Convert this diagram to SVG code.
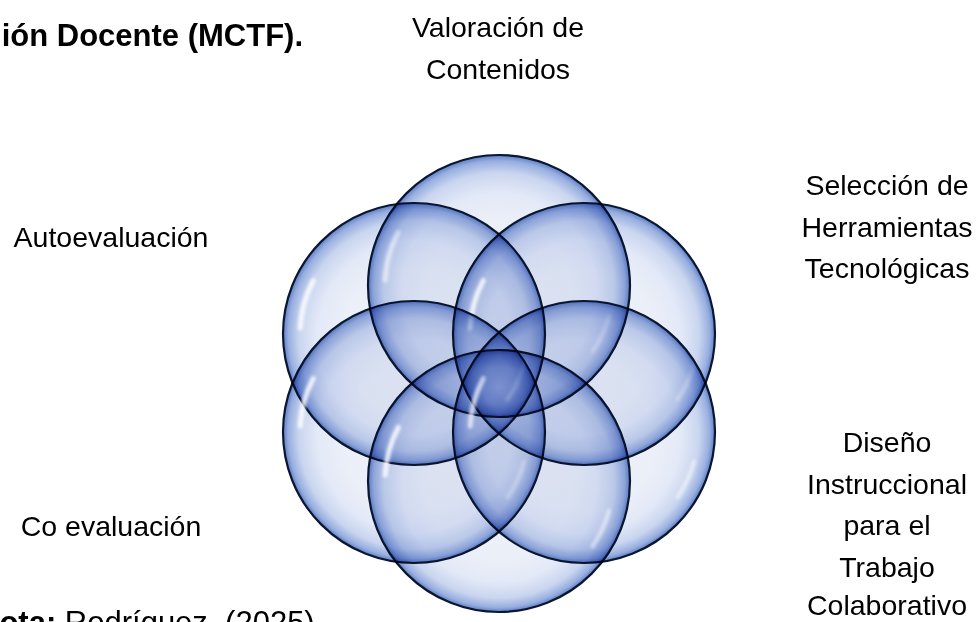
<svg xmlns="http://www.w3.org/2000/svg" width="977" height="622" viewBox="0 0 977 622">
  <defs>
    <radialGradient id="bubbleFill" cx="50%" cy="50%" r="50%" fx="50%" fy="56%">
      <stop offset="0%" stop-color="#f0f2f9"/>
      <stop offset="55%" stop-color="#ebeff8"/>
      <stop offset="74%" stop-color="#e3e9f7"/>
      <stop offset="88%" stop-color="#c9d5ef"/>
      <stop offset="96%" stop-color="#97aedf"/>
      <stop offset="100%" stop-color="#5d7fc6"/>
    </radialGradient>
    <filter id="soft" x="-50%" y="-50%" width="200%" height="200%">
      <feGaussianBlur stdDeviation="1.6"/>
    </filter>
  </defs>
  <style>
    .lbl { font-family: "Liberation Sans", Arial, sans-serif; font-size: 28.5px; fill: #000; }
    .big { font-family: "Liberation Sans", Arial, sans-serif; font-size: 31px; fill: #000; }
    .b { font-weight: bold; }
    .disc { fill: url(#bubbleFill); stroke: #0b1730; stroke-width: 2.2; mix-blend-mode: multiply; }
    .hl { fill: none; stroke: #ffffff; stroke-width: 5; stroke-linecap: round; opacity: 0.8; filter: url(#soft); }
    .hl2 { fill: none; stroke: #ffffff; stroke-width: 4; stroke-linecap: round; opacity: 0.5; filter: url(#soft); }
  </style>
  <rect width="977" height="622" fill="#ffffff"/>

  <text id="title" class="big b" x="303" y="46" text-anchor="end">ión Docente (MCTF).</text>

  <g id="circles">
    <g id="c-top">
      <circle class="disc" cx="499" cy="286" r="131"/>
      <path class="hl" d="M 385.2 280 A 114 114 0 0 1 398.3 232.5"/>
      <path class="hl2" d="M 609 315.5 A 114 114 0 0 1 592.4 351.4"/>
    </g>
    <g id="c-upper-left">
      <circle class="disc" cx="414" cy="334" r="131"/>
      <path class="hl" d="M 300.2 328 A 114 114 0 0 1 313.3 280.5"/>
      <path class="hl2" d="M 524 363.5 A 114 114 0 0 1 507.4 399.4"/>
    </g>
    <g id="c-upper-right">
      <circle class="disc" cx="584" cy="334" r="131"/>
      <path class="hl" d="M 470.2 328 A 114 114 0 0 1 483.3 280.5"/>
      <path class="hl2" d="M 694 363.5 A 114 114 0 0 1 677.4 399.4"/>
    </g>
    <g id="c-lower-left">
      <circle class="disc" cx="414" cy="432" r="131"/>
      <path class="hl" d="M 300.2 426 A 114 114 0 0 1 313.3 378.5"/>
      <path class="hl2" d="M 524 461.5 A 114 114 0 0 1 507.4 497.4"/>
    </g>
    <g id="c-lower-right">
      <circle class="disc" cx="584" cy="432" r="131"/>
      <path class="hl" d="M 470.2 426 A 114 114 0 0 1 483.3 378.5"/>
      <path class="hl2" d="M 694 461.5 A 114 114 0 0 1 677.4 497.4"/>
    </g>
    <g id="c-bottom">
      <circle class="disc" cx="499" cy="481" r="131"/>
      <path class="hl" d="M 385.2 475 A 114 114 0 0 1 398.3 427.5"/>
      <path class="hl2" d="M 609 510.5 A 114 114 0 0 1 592.4 546.4"/>
    </g>
  </g>

  <g id="label-valoracion">
    <text class="lbl" x="498" y="37" text-anchor="middle">Valoración de</text>
    <text class="lbl" x="498" y="79" text-anchor="middle">Contenidos</text>
  </g>
  <g id="label-seleccion">
    <text class="lbl" x="887" y="195" text-anchor="middle">Selección de</text>
    <text class="lbl" x="887" y="236.5" text-anchor="middle">Herramientas</text>
    <text class="lbl" x="887" y="278" text-anchor="middle">Tecnológicas</text>
  </g>
  <g id="label-diseno">
    <text class="lbl" x="887" y="452" text-anchor="middle">Diseño</text>
    <text class="lbl" x="887" y="493.5" text-anchor="middle">Instruccional</text>
    <text class="lbl" x="887" y="535" text-anchor="middle">para el</text>
    <text class="lbl" x="887" y="576.5" text-anchor="middle">Trabajo</text>
    <text class="lbl" x="887" y="615" text-anchor="middle">Colaborativo</text>
  </g>
  <g id="label-autoevaluacion">
    <text class="lbl" x="111" y="247" text-anchor="middle">Autoevaluación</text>
  </g>
  <g id="label-coevaluacion">
    <text class="lbl" x="111" y="536" text-anchor="middle">Co evaluación</text>
  </g>

  <text id="note" class="big" x="-23" y="633"><tspan class="b">Nota:</tspan> Rodríguez, (2025)</text>
</svg>
